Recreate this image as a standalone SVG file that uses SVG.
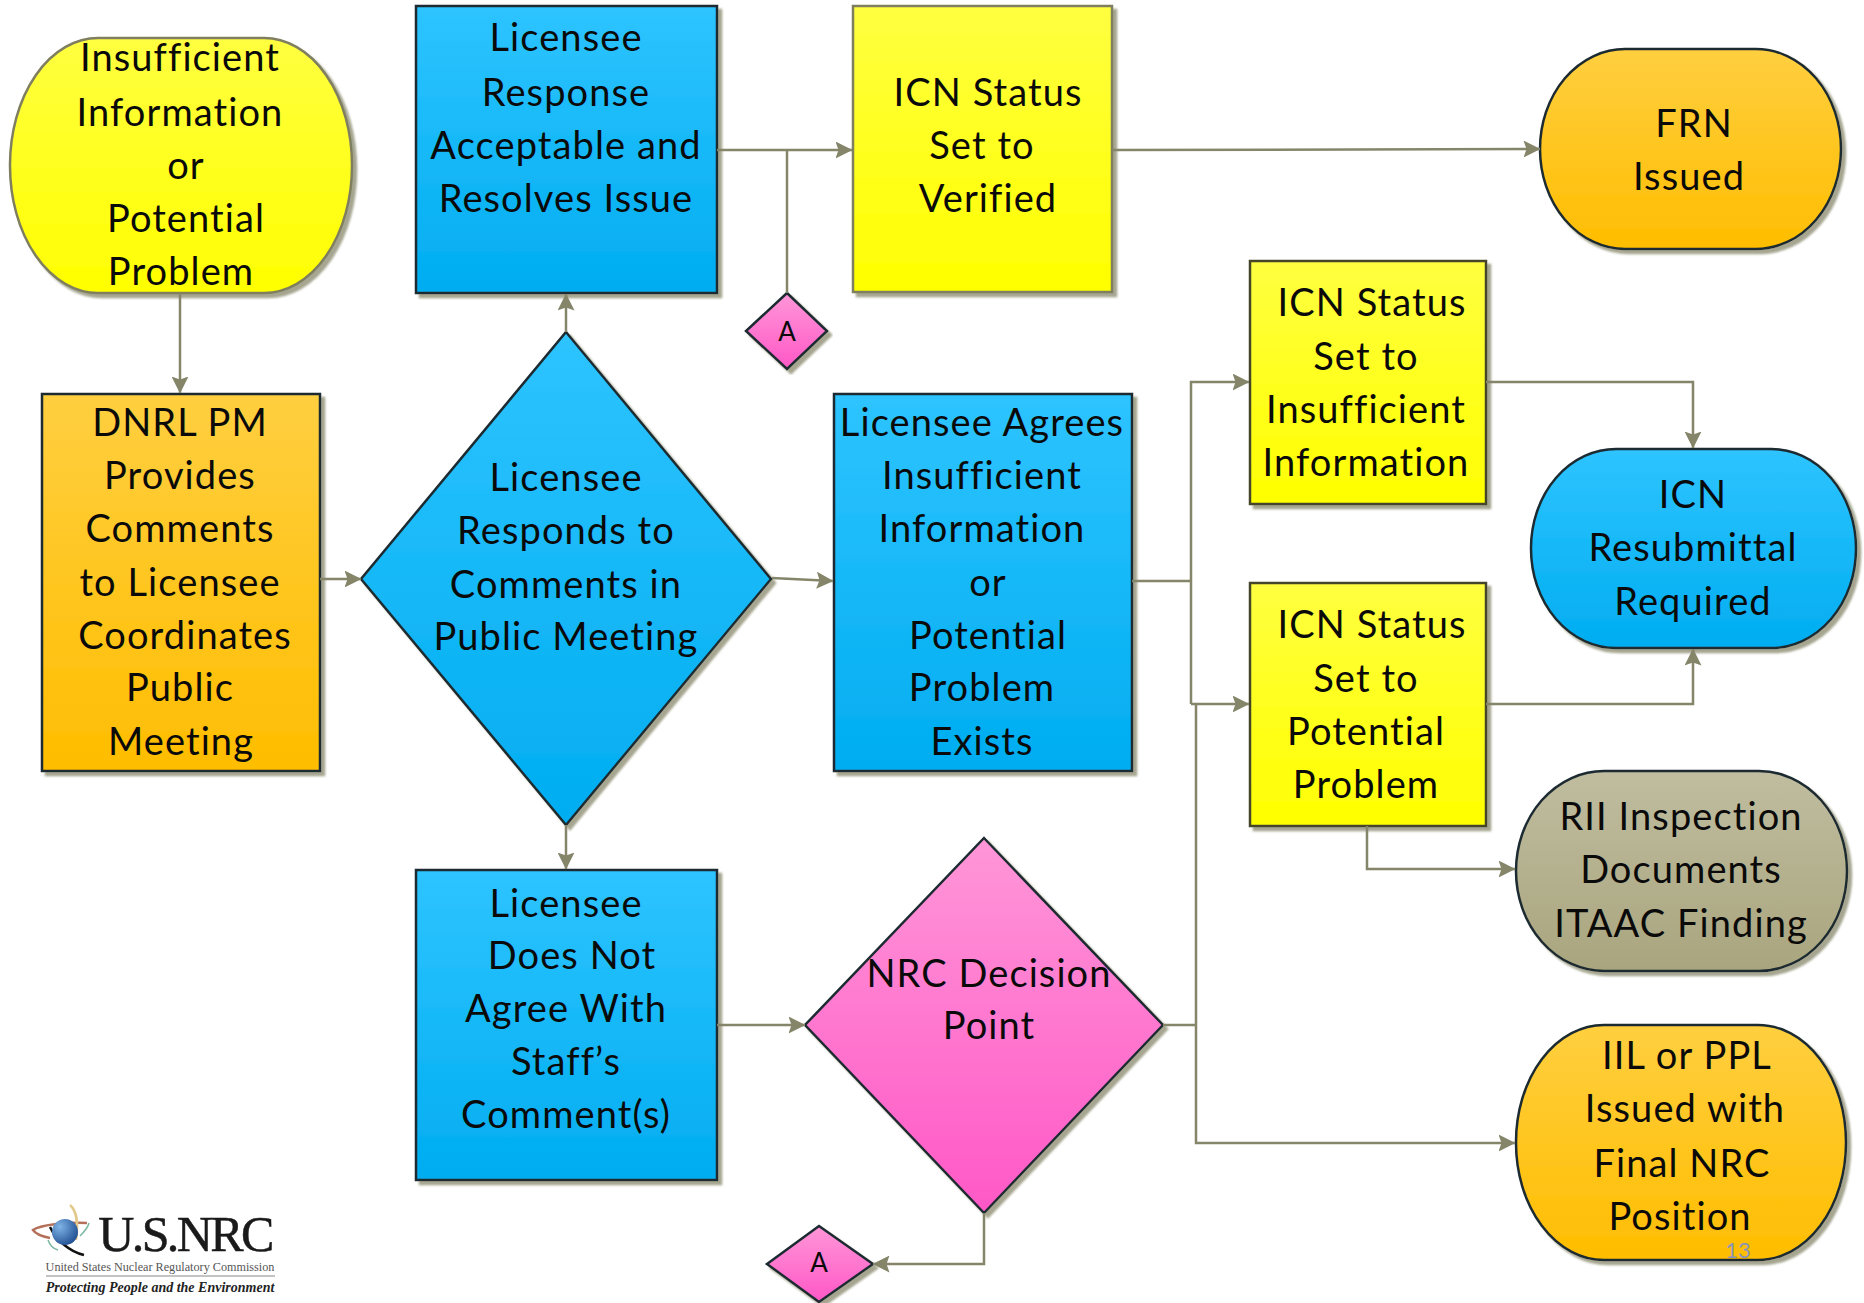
<svg xmlns="http://www.w3.org/2000/svg" width="1864" height="1303" viewBox="0 0 1864 1303">
<style>
text{font-family:Lato,"Liberation Sans",sans-serif;font-size:38px;letter-spacing:1.1px;fill:#0a0a0a;text-anchor:middle}
.s{filter:url(#sh)}
.k{stroke:#1c2a30;stroke-width:2.5}
.o{stroke:#7f7f60;stroke-width:2.5}
.d{stroke:#45452a;stroke-width:2.5}
.c{fill:none;stroke:#85856a;stroke-width:2.5}
.blue{fill:url(#gb)}.org{fill:url(#go)}.yel{fill:url(#gy)}.pnk{fill:url(#gp)}.tan{fill:url(#gt)}
#logo text{letter-spacing:0}
#logo .ser{font-family:"Liberation Serif",serif}
#logo path{fill:none}
</style>
<defs>
<filter id="sh" x="-5%" y="-5%" width="112%" height="112%"><feDropShadow dx="4" dy="4" stdDeviation="1" flood-color="#a5a590"/></filter>
<linearGradient id="gb" x1="0" y1="0" x2="0" y2="1"><stop offset="0" stop-color="#2ec4ff"/><stop offset="1" stop-color="#00adf0"/></linearGradient>
<linearGradient id="go" x1="0" y1="0" x2="0" y2="1"><stop offset="0" stop-color="#ffcf40"/><stop offset="1" stop-color="#ffbd00"/></linearGradient>
<linearGradient id="gy" x1="0" y1="0" x2="0" y2="1"><stop offset="0" stop-color="#ffff40"/><stop offset="1" stop-color="#ffff00"/></linearGradient>
<linearGradient id="gp" x1="0" y1="0" x2="0" y2="1"><stop offset="0" stop-color="#ff96d8"/><stop offset="1" stop-color="#ff58c6"/></linearGradient>
<linearGradient id="gt" x1="0" y1="0" x2="0" y2="1"><stop offset="0" stop-color="#c0bda0"/><stop offset="1" stop-color="#a9a57e"/></linearGradient>
<radialGradient id="ga" cx=".3" cy=".3" r=".9"><stop offset="0" stop-color="#7fb4e6"/><stop offset="1" stop-color="#123f86"/></radialGradient>
<marker id="ar" viewBox="0 0 17 17" refX="16.5" refY="8.5" markerWidth="17" markerHeight="17" markerUnits="userSpaceOnUse" orient="auto"><path d="M0 0L17 8.5L0 17L3 8.5Z" fill="#85856a"/></marker>
</defs>
<g id="insufficient"><rect class="s o yel" x="10" y="38" width="342" height="255" rx="88" ry="127"/><text x="180" y="71">Insufficient</text><text x="180" y="126">Information</text><text x="186" y="179">or</text><text x="186" y="232">Potential</text><text x="181" y="285">Problem</text></g>
<g id="response"><rect class="s k blue" x="416" y="6" width="301" height="287"/><text x="566" y="51">Licensee</text><text x="566" y="106">Response</text><text x="566" y="159">Acceptable and</text><text x="566" y="212">Resolves Issue</text></g>
<g id="verified"><rect class="s o yel" x="853" y="6" width="259" height="286"/><text x="988" y="106">ICN Status</text><text x="982" y="159">Set to</text><text x="988" y="212">Verified</text></g>
<g id="frn"><rect class="s k org" x="1540" y="49" width="301" height="200" rx="85" ry="100"/><text x="1694" y="137">FRN</text><text x="1689" y="190">Issued</text></g>
<g id="dnrl"><rect class="s k org" x="42" y="394" width="278" height="377"/><text x="180" y="436">DNRL PM</text><text x="180" y="489">Provides</text><text x="180" y="542">Comments</text><text x="180" y="596">to Licensee</text><text x="185" y="649">Coordinates</text><text x="180" y="701">Public</text><text x="181" y="755">Meeting</text></g>
<g id="responds"><path class="s k blue" d="M566 332L771 579L566 825L361 579Z"/><text x="566" y="491">Licensee</text><text x="566" y="544">Responds to</text><text x="566" y="598">Comments in</text><text x="566" y="650">Public Meeting</text></g>
<g id="agrees"><rect class="s k blue" x="834" y="394" width="298" height="377"/><text x="982" y="436">Licensee Agrees</text><text x="982" y="489">Insufficient</text><text x="982" y="542">Information</text><text x="988" y="596">or</text><text x="988" y="649">Potential</text><text x="982" y="701">Problem</text><text x="982" y="755">Exists</text></g>
<g id="status-insufficient"><rect class="s d yel" x="1250" y="261" width="236" height="243"/><text x="1372" y="316">ICN Status</text><text x="1366" y="370">Set to</text><text x="1366" y="423">Insufficient</text><text x="1366" y="476">Information</text></g>
<g id="status-potential"><rect class="s d yel" x="1250" y="583" width="236" height="243"/><text x="1372" y="638">ICN Status</text><text x="1366" y="692">Set to</text><text x="1366" y="745">Potential</text><text x="1366" y="798">Problem</text></g>
<g id="resubmittal"><rect class="s k blue" x="1531" y="449" width="325" height="199" rx="85" ry="99"/><text x="1693" y="508">ICN</text><text x="1693" y="561">Resubmittal</text><text x="1693" y="615">Required</text></g>
<g id="rii"><rect class="s k tan" x="1516" y="771" width="331" height="200" rx="88" ry="100"/><text x="1681" y="830">RII Inspection</text><text x="1681" y="883">Documents</text><text x="1681" y="937">ITAAC Finding</text></g>
<g id="iil"><rect class="s k org" x="1516" y="1025" width="330" height="235" rx="88" ry="117"/><text x="1687" y="1069">IIL or PPL</text><text x="1685" y="1122">Issued with</text><text x="1682" y="1177">Final NRC</text><text x="1680" y="1230">Position</text></g>
<g id="disagree"><rect class="s k blue" x="416" y="870" width="301" height="310"/><text x="566" y="917">Licensee</text><text x="572" y="969">Does Not</text><text x="566" y="1022">Agree With</text><text x="566" y="1075">Staff’s</text><text x="566" y="1128">Comment(s)</text></g>
<g id="decision"><path class="s k pnk" d="M984 838L1163 1025L984 1213L805 1025Z"/><text x="989" y="987">NRC Decision</text><text x="989" y="1039">Point</text></g>
<g id="a-top"><path class="s k pnk" d="M787 293L827 331L787 369L746 331Z"/><text x="787" y="341" style="font-size:26px;letter-spacing:0">A</text></g>
<g id="a-bottom"><path class="s k pnk" d="M819 1226L873 1264L819 1302L767 1264Z"/><text x="819" y="1272" style="font-size:26px;letter-spacing:0">A</text></g>
<g id="connectors">
<path class="c" d="M180 293V393" marker-end="url(#ar)"/>
<path class="c" d="M320 579H361" marker-end="url(#ar)"/>
<path class="c" d="M566 332V294" marker-end="url(#ar)"/>
<path class="c" d="M566 825V869" marker-end="url(#ar)"/>
<path class="c" d="M772 578L833 581" marker-end="url(#ar)"/>
<path class="c" d="M717 150H852" marker-end="url(#ar)"/>
<path class="c" d="M787 293V150"/>
<path class="c" d="M1112 150L1540 149" marker-end="url(#ar)"/>
<path class="c" d="M1132 581H1191"/>
<path class="c" d="M1191 704V382H1249" marker-end="url(#ar)"/>
<path class="c" d="M1191 704H1249" marker-end="url(#ar)"/>
<path class="c" d="M1486 382H1693V448" marker-end="url(#ar)"/>
<path class="c" d="M1486 704H1693V649" marker-end="url(#ar)"/>
<path class="c" d="M1367 826V869H1515" marker-end="url(#ar)"/>
<path class="c" d="M717 1025H805" marker-end="url(#ar)"/>
<path class="c" d="M1163 1025H1196"/>
<path class="c" d="M1196 704V1143H1515" marker-end="url(#ar)"/>
<path class="c" d="M984 1213V1264H873" marker-end="url(#ar)"/>
</g>
<text id="page" x="1738" y="1258" style="font-size:22px;letter-spacing:0;fill:#8a94b8">13</text>
<g id="logo">
<path d="M50 1238C40 1236 35 1233 33 1230C40 1225 65 1222 87 1223" stroke="#b5705a" stroke-width="2.5"/>
<path d="M70 1205C78 1212 78 1225 76 1240" stroke="#e3c98a" stroke-width="2.5"/>
<path d="M50 1227C56 1240 70 1252 84 1255" stroke="#111" stroke-width="2.5"/>
<path d="M48 1240C50 1246 54 1249 58 1250" stroke="#7db8a0" stroke-width="1.5"/>
<path d="M89 1223C88 1228 84 1232 80 1236" stroke="#7db8a0" stroke-width="1.5"/>
<circle cx="65" cy="1232" r="13" fill="url(#ga)"/>
<text class="ser" x="185" y="1251" style="font-size:50px;letter-spacing:-2.6px;fill:#1a1a1a;stroke:#1a1a1a;stroke-width:.5">U.S.NRC</text>
<text class="ser" x="160" y="1271" style="font-size:12.2px;fill:#555">United States Nuclear Regulatory Commission</text>
<path d="M46 1276H275" stroke="#888" stroke-width="1"/>
<text class="ser" x="160" y="1292" style="font-size:14px;font-style:italic;font-weight:700;fill:#222">Protecting People and the Environment</text>
</g>
</svg>
